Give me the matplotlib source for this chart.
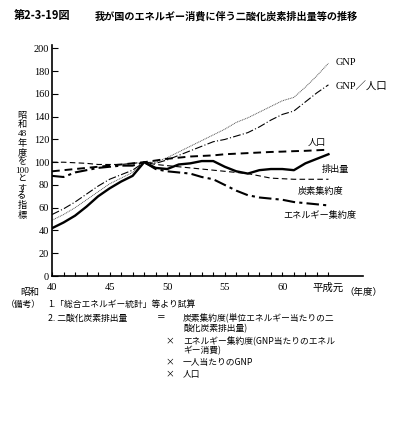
import matplotlib

matplotlib.use("Agg")
import matplotlib.pyplot as plt

plt.rcParams["font.family"] = ["Noto Sans CJK JP", "DejaVu Sans"]

# Fiscal years (Showa 40 .. Showa 64 = Heisei 1); Showa 48 = 100
years = list(range(40, 65))
emission = [42, 47, 53, 61, 70, 77, 83, 88, 100, 95, 94, 98, 99, 101, 101, 96,
            92, 90, 93, 94, 94, 93, 99, 103, 107]
population = [92, 93, 94, 95, 96, 97, 98, 99, 100, 101.5, 103, 104, 105, 105.5,
              106, 107, 107.5, 108, 108.5, 109, 109.3, 109.7, 110, 110.5, 111]
carbon_int = [100, 100, 99.5, 99, 98, 98, 98, 99, 100, 98, 97, 96, 95, 94, 93,
              92, 91, 90, 88, 86, 85.5, 85, 85, 85, 85]
energy_int = [88, 87, 91, 93, 95, 96, 97, 97, 100, 94, 92, 91, 90, 87, 85, 80,
              75, 71, 69, 68, 67, 65, 64, 63, 62]
gnp = [49, 54, 60, 67, 74, 81, 86, 91, 100, 100, 104, 109, 114, 119, 124, 129,
       135, 139, 144, 149, 154, 157, 166, 176, 187]
gnp_per_cap = [54, 59, 65, 72, 79, 85, 89, 93, 100, 99, 102, 106, 110, 114, 118,
               120, 123, 126, 131, 137, 142, 145, 153, 161, 168]

tick_years = [40, 45, 50, 55, 60, 64]
tick_labels = ["40", "45", "50", "55", "60", "平成元"]
y_ticks = list(range(0, 201, 20))

SERIF = ["Liberation Serif", "Noto Sans CJK JP"]
CJK = ["Noto Sans CJK JP", "DejaVu Sans"]

fig = plt.figure(figsize=(3.97, 4.22), dpi=100)
ax = fig.add_axes([52 / 397, (422 - 276) / 422, (363 - 52) / 397, 231 / 422])

ax.plot(years, gnp, color="#555555", lw=0.7, ls=(0, (1, 0.8)))
ax.plot(years, gnp_per_cap, color="black", lw=0.8, ls=(0, (7, 2, 1, 2)))
ax.plot(years, carbon_int, color="black", lw=0.8, ls=(0, (5, 3)))
ax.plot(years, population, color="black", lw=1.4, ls=(0, (4, 2.5)))
ax.plot(years, energy_int, color="black", lw=1.5, ls=(0, (6, 2, 1.5, 2)))
ax.plot(years, emission, color="black", lw=1.7, ls="-")

ax.set_xlim(40, 67)
ax.set_ylim(0, 203)
for side in ("top", "right"):
    ax.spines[side].set_visible(False)
ax.spines["left"].set_linewidth(1.2)
ax.spines["bottom"].set_linewidth(1.2)

ax.set_yticks(y_ticks)
ax.set_yticklabels([str(v) for v in y_ticks], family=SERIF, fontsize=7.5)
ax.tick_params(axis="y", direction="in", length=4, width=0.8, pad=2)
ax.set_xticks(years)
ax.set_xticklabels([tick_labels[tick_years.index(y)] if y in tick_years else ""
                    for y in years], family=SERIF, fontsize=7.5)
ax.tick_params(axis="x", direction="in", length=3, width=0.8, pad=5)

# series labels at the right
ax.text(64.6, 188, "GNP", family=SERIF, fontsize=7.5, va="center")
ax.text(64.6, 167, "GNP／人口", family=SERIF, fontsize=7.5, va="center")
ax.text(62.2, 117, "人口", family=CJK, fontsize=6.6, va="center")
ax.text(63.4, 94, "排出量", family=CJK, fontsize=6.6, va="center")
ax.text(61.3, 74, "炭素集約度", family=CJK, fontsize=6.6, va="center")
ax.text(60.1, 53, "エネルギー集約度", family=CJK, fontsize=6.6, va="center")

# title
fig.text(14 / 397, 1 - 16 / 422, "第2-3-19図", fontsize=8, weight="bold",
         va="center", family=CJK)
fig.text(95 / 397, 1 - 16 / 422,
         "我が国のエネルギー消費に伴う二酸化炭素排出量等の推移",
         fontsize=7.3, weight="bold", va="center", family=CJK)

# vertical y-axis caption
ylab = ["昭", "和", "48", "年", "度", "を", "100", "と", "す", "る", "指", "標"]
fig.text(22 / 397, 1 - 166 / 422, "\n".join(ylab), fontsize=6.6, ha="center",
         va="center", linespacing=1.1, family=SERIF)

fig.text(30 / 397, 1 - 292 / 422, "昭和", fontsize=6.8, ha="center",
         va="center", family=CJK)
fig.text(363 / 397, 1 - 292 / 422, "（年度）", fontsize=6.8, ha="center",
         va="center", family=CJK)

# notes
notes = [
    (6, 304, "（備考）"),
    (48, 304, "1.「総合エネルギー統計」等より試算"),
    (48, 318, "2. 二酸化炭素排出量"),
    (157, 318, "＝"),
    (183, 318, "炭素集約度(単位エネルギー当たりの二"),
    (183, 329, "酸化炭素排出量)"),
    (165, 341, "×"),
    (183, 341, "エネルギー集約度(GNP当たりのエネル"),
    (183, 351, "ギー消費)"),
    (165, 362, "×"),
    (183, 362, "一人当たりのGNP"),
    (165, 374, "×"),
    (183, 374, "人口"),
]
for x_px, y_px, text in notes:
    fig.text(x_px / 397, 1 - y_px / 422, text, fontsize=6.3, va="center",
             family=CJK)

fig.savefig("out.png", dpi=100)
